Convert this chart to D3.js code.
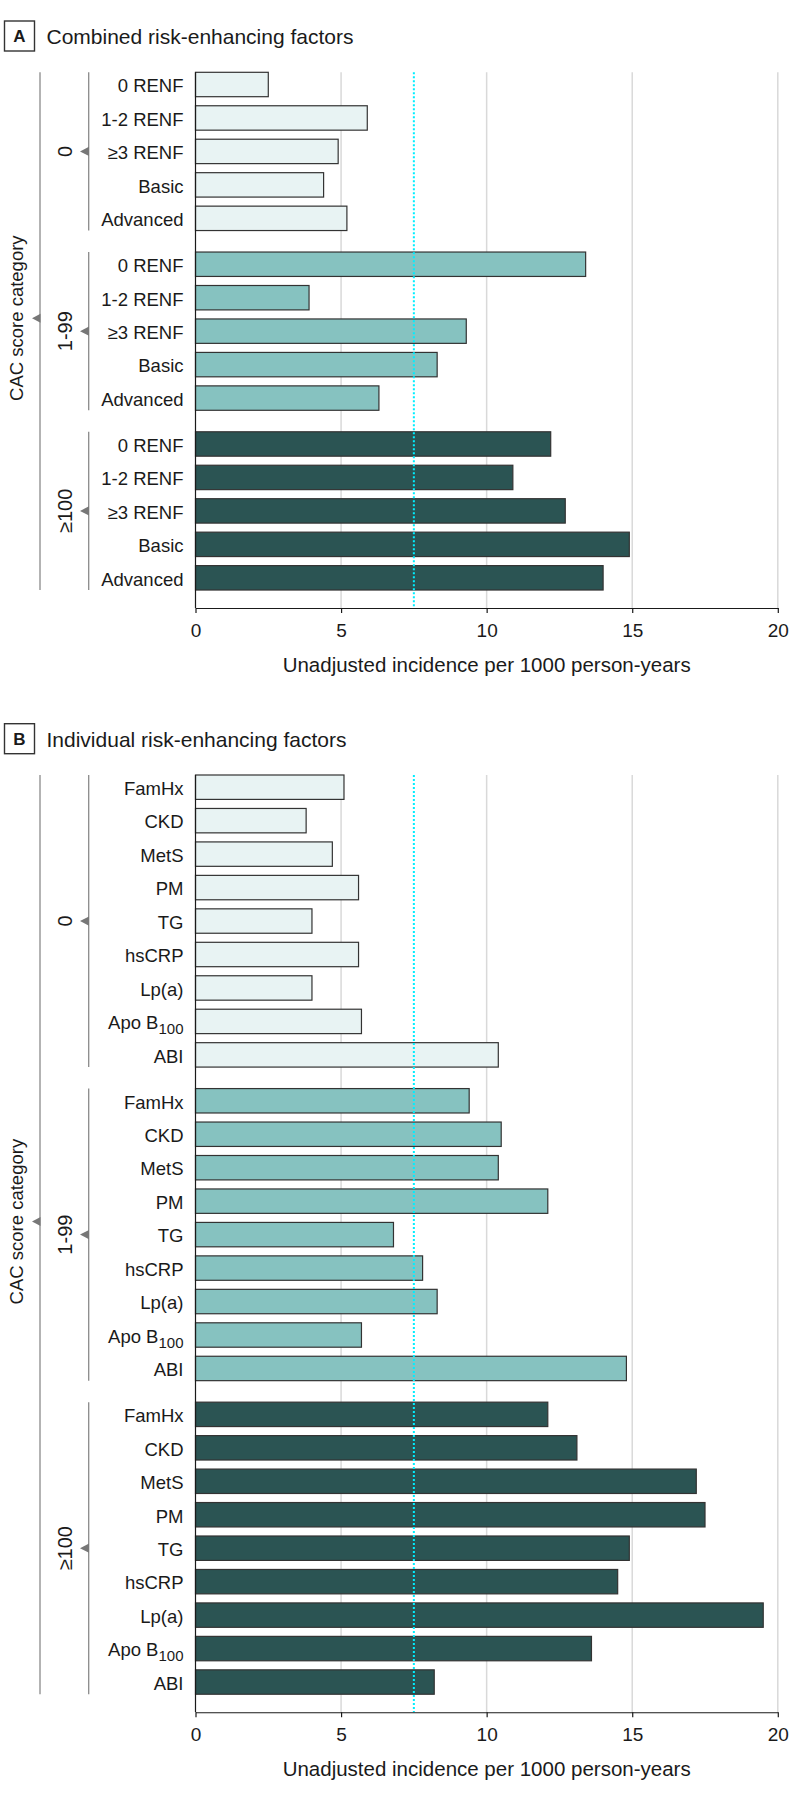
<!DOCTYPE html>
<html>
<head>
<meta charset="utf-8">
<script src="https://cdn.jsdelivr.net/npm/d3@7"></script>
<style>
  html, body { margin: 0; padding: 0; background: #fff; }
  svg { display: block; }
  text { font-family: "Liberation Sans", Arial, sans-serif; fill: #1a1a1a; }
</style>
</head>
<body>
<svg id="chart" width="794" height="1797"></svg>
<script>
// ---------------- DATA ----------------
const cacGroups = ["0", "1-99", "≥100"];

const itemsA = ["0 RENF", "1-2 RENF", "≥3 RENF", "Basic", "Advanced"];
const valuesA_cac0   = [2.5, 5.9, 4.9, 4.4, 5.2];
const valuesA_cac1   = [13.4, 3.9, 9.3, 8.3, 6.3];
const valuesA_cac100 = [12.2, 10.9, 12.7, 14.9, 14.0];

const itemsB = ["FamHx", "CKD", "MetS", "PM", "TG", "hsCRP", "Lp(a)", "Apo B_100", "ABI"];
const valuesB_cac0   = [5.1, 3.8, 4.7, 5.6, 4.0, 5.6, 4.0, 5.7, 10.4];
const valuesB_cac1   = [9.4, 10.5, 10.4, 12.1, 6.8, 7.8, 8.3, 5.7, 14.8];
const valuesB_cac100 = [12.1, 13.1, 17.2, 17.5, 14.9, 14.5, 19.5, 13.6, 8.2];

const xTicks = [0, 5, 10, 15, 20];
const referenceValue = 7.5;
const groupColors = ["#e8f3f3", "#86c2c0", "#2b5453"];

const panelA = { letter: "A", title: "Combined risk-enhancing factors", items: itemsA,
  values: [valuesA_cac0, valuesA_cac1, valuesA_cac100] };
const panelB = { letter: "B", title: "Individual risk-enhancing factors", items: itemsB,
  values: [valuesB_cac0, valuesB_cac1, valuesB_cac100] };

// ---------------- LAYOUT ----------------
const svg = d3.select("#chart");
const x = d3.scaleLinear().domain([0, 20]).range([195.5, 777.8]);
const STEP = 33.46, BAR_H = 24.4, GROUP_GAP = 21.5;

function drawPanel(panel, offsetY) {
  const g = svg.append("g").attr("transform", `translate(0,${offsetY})`);
  const n = panel.items.length;
  const groupSpan = (n - 1) * STEP + BAR_H;
  const top = 72.3;
  const yGroup = d3.scaleBand().domain(cacGroups)
    .range([top, top + 3 * groupSpan + 2 * GROUP_GAP])
    .paddingInner(GROUP_GAP / (groupSpan + GROUP_GAP)).paddingOuter(0);
  const yItem = d3.scaleBand().domain(panel.items)
    .range([0, groupSpan]).paddingInner((STEP - BAR_H) / STEP).paddingOuter(0);
  const bottomBars = yGroup(cacGroups[2]) + groupSpan;
  const axisY = bottomBars + 18;

  // Panel title
  g.append("rect").attr("x", 4.5).attr("y", 21).attr("width", 30).attr("height", 30)
    .attr("fill", "#fff").attr("stroke", "#333").attr("stroke-width", 1.4);
  g.append("text").attr("x", 19.5).attr("y", 42.3).attr("text-anchor", "middle")
    .attr("font-size", 17).attr("font-weight", "bold").text(panel.letter);
  g.append("text").attr("x", 46.5).attr("y", 44).attr("font-size", 21).text(panel.title);

  // Gridlines
  g.selectAll(".grid").data(xTicks.filter(t => t > 0)).join("line")
    .attr("x1", d => x(d)).attr("x2", d => x(d))
    .attr("y1", top).attr("y2", axisY)
    .attr("stroke", "#d9d9d9").attr("stroke-width", 1.5);

  // Bars
  cacGroups.forEach((grp, gi) => {
    const gy = yGroup(grp);
    const rows = panel.items.map((it, i) => ({ item: it, value: panel.values[gi][i] }));
    g.append("g").selectAll("rect").data(rows).join("rect")
      .attr("x", x(0))
      .attr("y", d => gy + yItem(d.item))
      .attr("width", d => x(d.value) - x(0))
      .attr("height", yItem.bandwidth())
      .attr("fill", groupColors[gi])
      .attr("stroke", "#333").attr("stroke-width", 1.2);

    // Item labels
    const lbl = g.append("g").selectAll("text").data(rows).join("text")
      .attr("x", 183.5)
      .attr("y", d => gy + yItem(d.item) + yItem.bandwidth() / 2 + 7.8)
      .attr("text-anchor", "end").attr("font-size", 18.5);
    lbl.each(function(d) {
      const parts = d.item.split("_");
      const t = d3.select(this);
      t.append("tspan").text(parts[0]);
      if (parts[1]) t.append("tspan").attr("font-size", 15).attr("dy", 5).text(parts[1]);
    });

    // Inner bracket
    g.append("line").attr("x1", 88.7).attr("x2", 88.7)
      .attr("y1", gy).attr("y2", gy + groupSpan)
      .attr("stroke", "#8a8a8a").attr("stroke-width", 1.3);
    const cy = gy + groupSpan / 2;
    g.append("path").attr("d", `M80,${cy} L89,${cy - 4.6} L89,${cy + 4.6} Z`).attr("fill", "#777");
    g.append("text").attr("transform", `translate(71.7,${cy}) rotate(-90)`)
      .attr("text-anchor", "middle").attr("font-size", 20).text(grp);
  });

  // Outer bracket
  g.append("line").attr("x1", 40).attr("x2", 40).attr("y1", top).attr("y2", bottomBars)
    .attr("stroke", "#ababab").attr("stroke-width", 1.8);
  const oy = (top + bottomBars) / 2 - 13;
  g.append("path").attr("d", `M32,${oy} L40.5,${oy - 4.5} L40.5,${oy + 4.5} Z`).attr("fill", "#777");
  g.append("text").attr("transform", `translate(23.3,${oy}) rotate(-90)`)
    .attr("text-anchor", "middle").attr("font-size", 18.5).text("CAC score category");

  // Reference dotted line
  g.append("line").attr("x1", x(referenceValue)).attr("x2", x(referenceValue))
    .attr("y1", top).attr("y2", axisY)
    .attr("stroke", "#00eeff").attr("stroke-width", 2).attr("stroke-dasharray", "2,2");

  // Y axis line
  g.append("line").attr("x1", x(0)).attr("x2", x(0)).attr("y1", top).attr("y2", axisY)
    .attr("stroke", "#1a1a1a").attr("stroke-width", 1.2);

  // X axis
  const ax = g.append("g").attr("transform", `translate(0,${axisY})`)
    .call(d3.axisBottom(x).tickValues(xTicks).tickSize(5).tickSizeOuter(0).tickPadding(10.5));
  ax.select(".domain").attr("stroke", "#1a1a1a").attr("stroke-width", 1.2);
  ax.selectAll(".tick line").attr("stroke", "#1a1a1a").attr("stroke-width", 1.2);
  ax.selectAll(".tick text").attr("font-size", 19)
    .attr("font-family", "'Liberation Sans', Arial, sans-serif").attr("fill", "#1a1a1a");

  g.append("text").attr("x", (x(0) + x(20)) / 2).attr("y", axisY + 63.5)
    .attr("text-anchor", "middle").attr("font-size", 20.5)
    .text("Unadjusted incidence per 1000 person-years");
}

drawPanel(panelA, 0);
drawPanel(panelB, 702.7);
</script>
</body>
</html>
